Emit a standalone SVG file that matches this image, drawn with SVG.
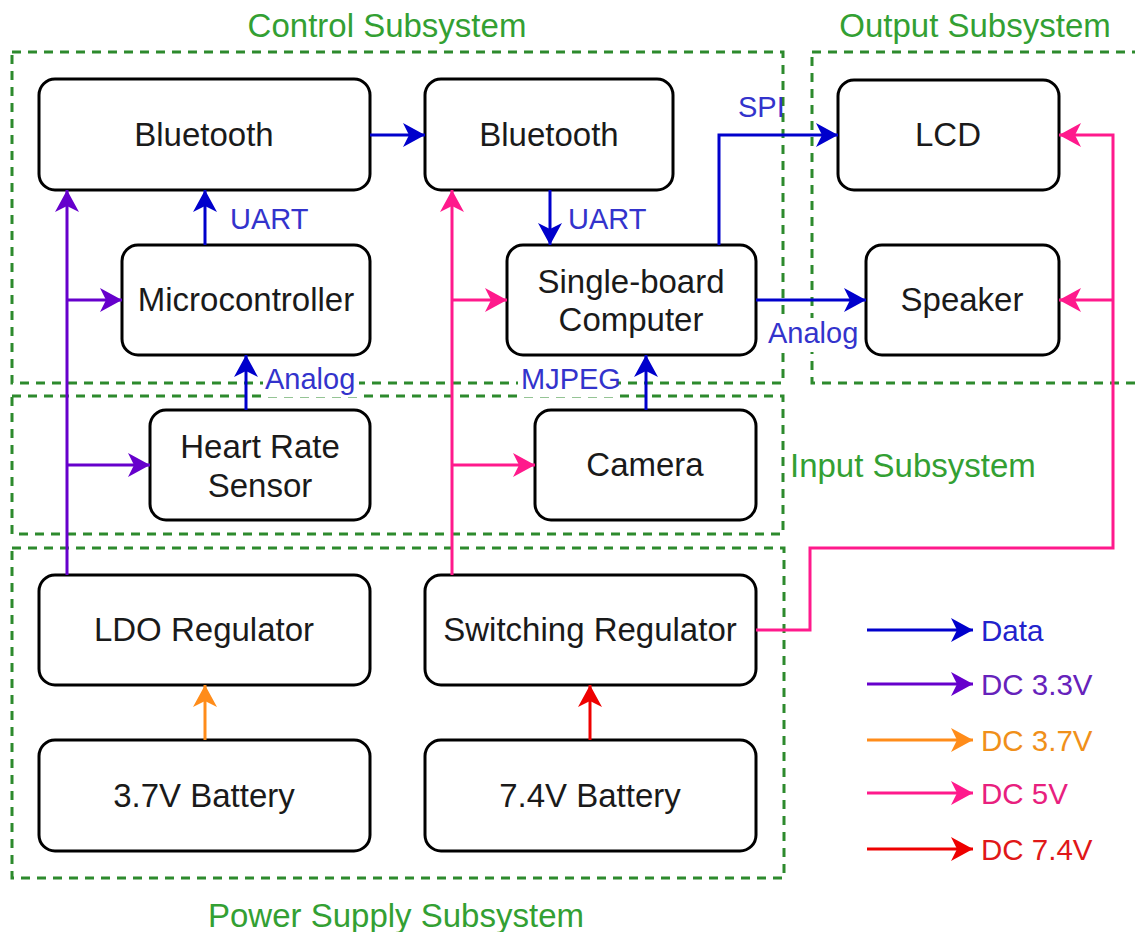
<svg xmlns="http://www.w3.org/2000/svg" width="1135" height="932" viewBox="0 0 1135 932">
<style>
.node rect{fill:#fff;stroke:#000;stroke-width:3}
.node text{font-family:"Liberation Sans",Arial,sans-serif;font-size:33px;fill:#1a1a1a;text-anchor:middle}
.grp{fill:none;stroke:#2d8a2d;stroke-width:3;stroke-dasharray:9 7}
.title{font-family:"Liberation Sans",Arial,sans-serif;font-size:33px;fill:#33a033}
.lbl{font-family:"Liberation Sans",Arial,sans-serif;font-size:29px;fill:#3333cc}
.leg{font-family:"Liberation Sans",Arial,sans-serif;font-size:29.5px}
.c{fill:none;stroke-width:3}
.blue{stroke:#0000cc;marker-end:url(#aB)}
.purple{stroke:#6600cc;marker-end:url(#aP)}
.pink{stroke:#ff1a8c;marker-end:url(#aK)}
.orange{stroke:#ff8c1a;marker-end:url(#aO)}
.red{stroke:#ee0000;marker-end:url(#aR)}
</style>
<defs>
<marker id="aB" viewBox="0 0 24 26" markerWidth="24" markerHeight="26" refX="22" refY="13" orient="auto" markerUnits="userSpaceOnUse"><path d="M0,1 L22,13 L0,25 L6,13 Z" fill="#0000cc"/></marker>
<marker id="aP" viewBox="0 0 24 26" markerWidth="24" markerHeight="26" refX="22" refY="13" orient="auto" markerUnits="userSpaceOnUse"><path d="M0,1 L22,13 L0,25 L6,13 Z" fill="#6600cc"/></marker>
<marker id="aK" viewBox="0 0 24 26" markerWidth="24" markerHeight="26" refX="22" refY="13" orient="auto" markerUnits="userSpaceOnUse"><path d="M0,1 L22,13 L0,25 L6,13 Z" fill="#ff1a8c"/></marker>
<marker id="aO" viewBox="0 0 24 26" markerWidth="24" markerHeight="26" refX="22" refY="13" orient="auto" markerUnits="userSpaceOnUse"><path d="M0,1 L22,13 L0,25 L6,13 Z" fill="#ff8c1a"/></marker>
<marker id="aR" viewBox="0 0 24 26" markerWidth="24" markerHeight="26" refX="22" refY="13" orient="auto" markerUnits="userSpaceOnUse"><path d="M0,1 L22,13 L0,25 L6,13 Z" fill="#ee0000"/></marker>
</defs>
<rect width="1135" height="932" fill="#fff"/>

<g id="subsystems">
<rect class="grp" x="12" y="52" width="771" height="331"/>
<rect class="grp" x="812" y="52" width="340" height="331"/>
<rect class="grp" x="12" y="396" width="771" height="138"/>
<rect class="grp" x="12" y="548" width="772" height="330"/>
<text class="title" x="387" y="37" text-anchor="middle">Control Subsystem</text>
<text class="title" x="975" y="37" text-anchor="middle">Output Subsystem</text>
<text class="title" x="790" y="477">Input Subsystem</text>
<text class="title" x="396" y="927" text-anchor="middle">Power Supply Subsystem</text>
</g>

<g id="bluetooth1" class="node"><rect x="39" y="79" width="331" height="111" rx="16"/><text x="204" y="146">Bluetooth</text></g>
<g id="microcontroller" class="node"><rect x="122" y="245" width="248" height="110" rx="16"/><text x="246" y="311">Microcontroller</text></g>
<g id="bluetooth2" class="node"><rect x="425" y="79" width="248" height="111" rx="16"/><text x="549" y="146">Bluetooth</text></g>
<g id="sbc" class="node"><rect x="507" y="245" width="249" height="110" rx="16"/><text x="631" y="293">Single-board</text><text x="631" y="331">Computer</text></g>
<g id="lcd" class="node"><rect x="838" y="80" width="221" height="110" rx="16"/><text x="948" y="146">LCD</text></g>
<g id="speaker" class="node"><rect x="866" y="245" width="193" height="110" rx="16"/><text x="962" y="311">Speaker</text></g>
<g id="hrs" class="node"><rect x="150" y="410" width="220" height="110" rx="16"/><text x="260" y="458">Heart Rate</text><text x="260" y="497">Sensor</text></g>
<g id="camera" class="node"><rect x="535" y="410" width="221" height="110" rx="16"/><text x="645" y="476">Camera</text></g>
<g id="ldo" class="node"><rect x="39" y="575" width="331" height="110" rx="16"/><text x="204" y="641">LDO Regulator</text></g>
<g id="switching" class="node"><rect x="425" y="575" width="331" height="110" rx="16"/><text x="590" y="641">Switching Regulator</text></g>
<g id="battery37" class="node"><rect x="39" y="740" width="331" height="111" rx="16"/><text x="204" y="807">3.7V Battery</text></g>
<g id="battery74" class="node"><rect x="425" y="740" width="331" height="111" rx="16"/><text x="590" y="807">7.4V Battery</text></g>

<g id="connectors">
<path class="c blue" d="M370,135 H425"/>
<path class="c blue" d="M205,245 V190"/>
<path class="c blue" d="M246,410 V355"/>
<path class="c blue" d="M550,190 V245"/>
<path class="c blue" d="M646,410 V355"/>
<path class="c blue" d="M719,245 V135 H838"/>
<path class="c blue" d="M756,300 H866"/>
<path class="c purple" d="M67,575 V190"/>
<path class="c purple" d="M67,300 H122"/>
<path class="c purple" d="M67,465 H150"/>
<path class="c pink" d="M452,575 V190"/>
<path class="c pink" d="M452,300 H507"/>
<path class="c pink" d="M452,465 H535"/>
<path class="c pink" d="M756,630 H810 V548 H1113 V135 H1059"/>
<path class="c pink" d="M1113,300 H1059"/>
<path class="c orange" d="M205,740 V685"/>
<path class="c red" d="M590,740 V685"/>
<text class="lbl" x="230" y="229">UART</text>
<text class="lbl" x="568" y="229">UART</text>
<text class="lbl" x="738" y="117">SPI</text>
<rect x="263" y="367" width="96" height="30" fill="#fff"/>
<text class="lbl" x="265" y="389">Analog</text>
<rect x="518" y="367" width="100" height="30" fill="#fff"/>
<text class="lbl" x="521" y="389">MJPEG</text>
<rect x="766" y="318" width="92" height="34" fill="#fff"/>
<text class="lbl" x="768" y="343">Analog</text>
</g>

<g id="legend">
<path class="c blue" d="M867,630 H973"/>
<path class="c purple" d="M867,684 H973"/>
<path class="c orange" d="M867,740 H973"/>
<path class="c pink" d="M867,793 H973"/>
<path class="c red" d="M867,849 H973"/>
<text class="leg" x="981" y="641" fill="#2222cc">Data</text>
<text class="leg" x="981" y="695" fill="#6622bb">DC 3.3V</text>
<text class="leg" x="981" y="751" fill="#f0901a">DC 3.7V</text>
<text class="leg" x="981" y="804" fill="#e8207e">DC 5V</text>
<text class="leg" x="981" y="860" fill="#e01818">DC 7.4V</text>
</g>
</svg>
